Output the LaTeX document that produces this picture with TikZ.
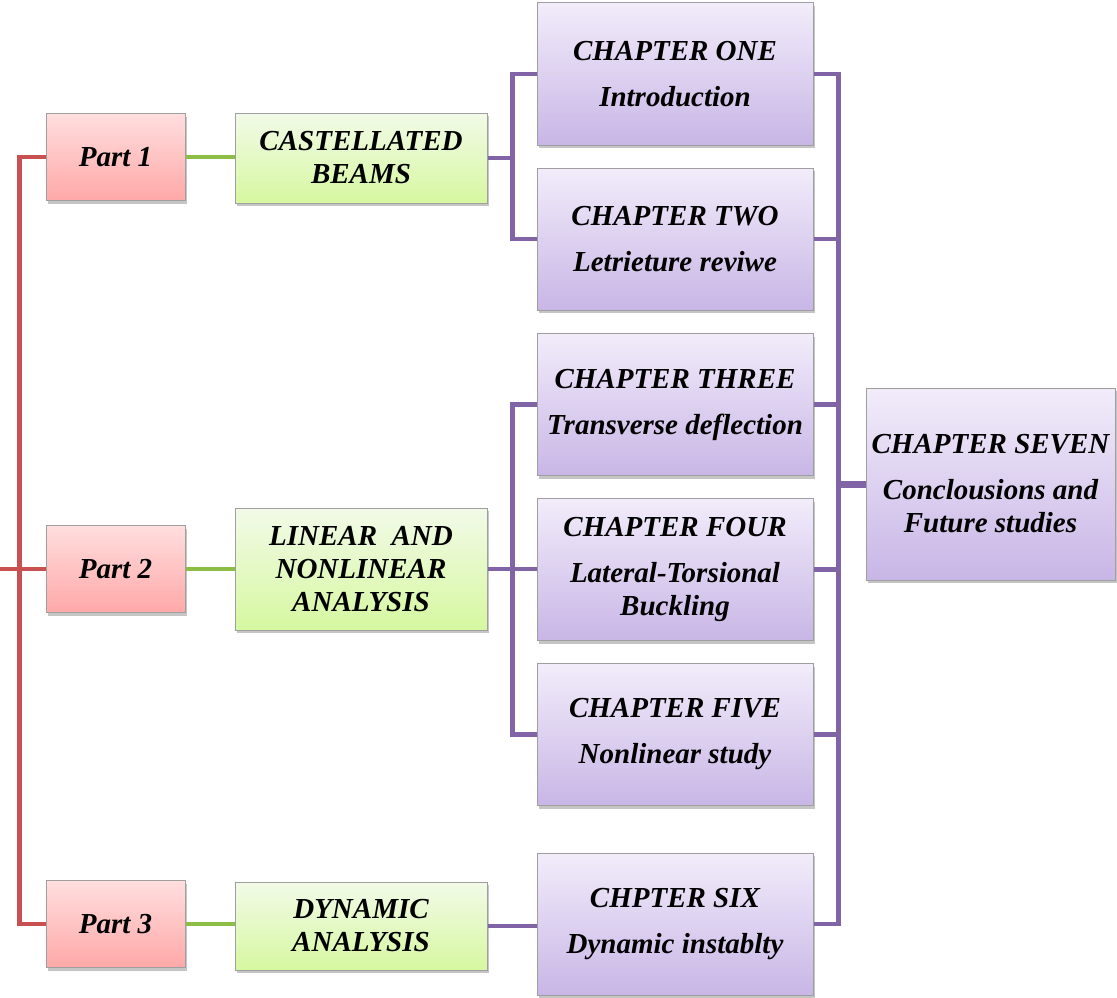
\documentclass[tikz,border=0pt]{standalone}
\usepackage{fontspec}
\setmainfont{Liberation Serif}
\usetikzlibrary{positioning,shadows}
\definecolor{partTop}{RGB}{255,222,222}
\definecolor{partBot}{RGB}{255,168,168}
\definecolor{beamTop}{RGB}{242,250,232}
\definecolor{beamBot}{RGB}{214,248,160}
\definecolor{chapTop}{RGB}{242,236,250}
\definecolor{chapBot}{RGB}{200,182,230}
\definecolor{redln}{RGB}{200,80,80}
\definecolor{greenln}{RGB}{140,190,70}
\definecolor{purpln}{RGB}{128,100,165}

\begin{document}
\begin{tikzpicture}[x=1pt, y=-1pt,
    box/.style={draw=gray!75, line width=1pt, align=center,
      font=\bfseries\itshape\fontsize{29}{33}\selectfont,
      drop shadow={shadow xshift=2pt, shadow yshift=-3pt, fill=black!45}},
    partbox/.style={box, top color=partTop, bottom color=partBot, minimum width=139pt, minimum height=87pt},
    beambox/.style={box, top color=beamTop, bottom color=beamBot, minimum width=252pt},
    chapbox/.style={box, top color=chapTop, bottom color=chapBot, minimum width=276pt, minimum height=142pt},
    redline/.style={draw=redln, line width=4.5pt},
    greenline/.style={draw=greenln, line width=4.5pt},
    purpline/.style={draw=purpln, line width=4.5pt}
  ]
  \useasboundingbox (0,0) rectangle (1117,998);
  % parts
  \node[partbox] (p1) at (115.5,157) {Part 1};
  \node[partbox] (p2) at (115.5,569) {Part 2};
  \node[partbox] (p3) at (115.5,924) {Part 3};
  % subjects
  \node[beambox, minimum height=90pt] (g1) at (361,158) {CASTELLATED\\BEAMS};
  \node[beambox, minimum height=122pt] (g2) at (361,569) {LINEAR~ AND\\NONLINEAR\\ANALYSIS};
  \node[beambox, minimum height=88pt] (g3) at (361,926) {DYNAMIC\\ANALYSIS};
  % chapters
  \node[chapbox] (c1) at (675,74) {CHAPTER ONE\\[13pt]Introduction};
  \node[chapbox] (c2) at (675,239) {CHAPTER TWO\\[13pt]Letrieture reviwe};
  \node[chapbox] (c3) at (675,404.5) {CHAPTER THREE\\[13pt]Transverse deflection};
  \node[chapbox] (c4) at (675,569.5) {CHAPTER FOUR\\[13pt]Lateral-Torsional\\Buckling};
  \node[chapbox] (c5) at (675,734.5) {CHAPTER FIVE\\[13pt]Nonlinear study};
  \node[chapbox] (c6) at (675,924) {CHPTER SIX\\[13pt]Dynamic instablty};
  \node[chapbox, minimum width=249pt, minimum height=192pt] (c7) at (990.5,484)
    {CHAPTER SEVEN\\[13pt]Conclousions and\\Future studies};
  % red tree
  \coordinate (lft) at (0,569);
  \draw[redline] (lft) -- (p2.west);
  \draw[redline] (p1.west) -- ++(-26,0) |- (p3.west);
  % green links
  \draw[greenline] (p1.east) -- (p1.east -| g1.west);
  \draw[greenline] (p2.east) -- (p2.east -| g2.west);
  \draw[greenline] (p3.east) -- (p3.east -| g3.west);
  % purple links
  \coordinate (b1) at ([xshift=25pt]g1.east);
  \coordinate (b2) at ([xshift=25pt]g2.east);
  \draw[purpline] (g1.east) -- (b1);
  \draw[purpline] (c1.west) -| (b1) |- (c2.west);
  \draw[purpline] (g2.east) -- (g2.east -| c4.west);
  \draw[purpline] (c3.west) -| (b2) |- (c5.west);
  \draw[purpline] (g3.east) -- (g3.east -| c6.west);
  \coordinate (rb) at ([xshift=25pt]c1.east);
  \draw[purpline] (c1.east) -- (rb) |- (c6.east);
  \foreach \c in {c2,c3,c4,c5}
    \draw[purpline] (\c.east) -- (\c.east -| rb);
  \draw[purpline, line width=7pt] (rb |- c7.west) -- (c7.west);
\end{tikzpicture}
\end{document}
